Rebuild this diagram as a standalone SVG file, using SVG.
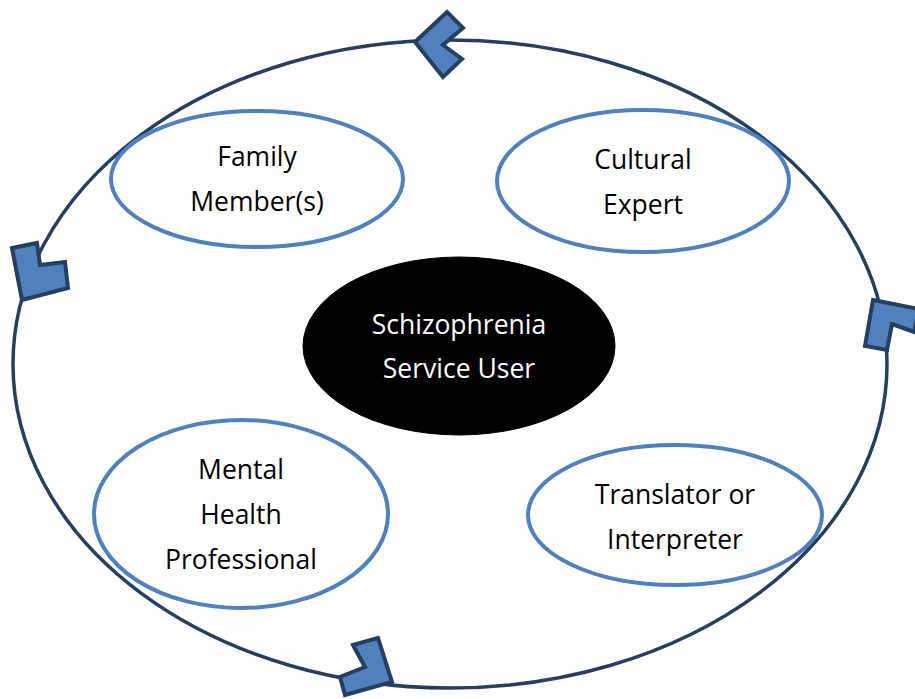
<svg xmlns="http://www.w3.org/2000/svg" width="915" height="699" viewBox="0 0 915 699">
<style>
.ring{fill:none;stroke:#243F60;stroke-width:3.5}
.node{fill:#fff;stroke:#4F81BD;stroke-width:4}
.core{fill:#000;stroke:#000;stroke-width:1}
.chev{fill:#4F81BD;stroke:#243F60;stroke-width:4;stroke-linejoin:miter}
text{font-family:"Open Sans","Liberation Sans",sans-serif;font-size:26.5px;text-anchor:middle;fill:#000}
.w{fill:#fff}
</style>
<rect width="915" height="699" fill="#fff"/>
<g id="connectors">
<ellipse class="ring" cx="450" cy="364" rx="437" ry="324"/>
<polygon class="chev" points="415,42 447,12 463,28 443,45 462,59 443,77"/>
<polygon class="chev" points="12,248 37,243 40,265 65,262 68,288 22,300"/>
<polygon class="chev" points="873,300 919,309 914,332 892,324 887,350 865,346"/>
<polygon class="chev" points="353,645 378,638 392,682 345,695 340,677 365,667"/>
</g>
<g id="family">
<ellipse class="node" cx="257" cy="179" rx="146" ry="68"/>
<text x="257" y="166">Family</text>
<text x="257" y="211">Member(s)</text>
</g>
<g id="cultural">
<ellipse class="node" cx="643" cy="181" rx="146" ry="71"/>
<text x="643" y="169">Cultural</text>
<text x="643" y="214">Expert</text>
</g>
<g id="user">
<ellipse class="core" cx="459" cy="346" rx="156" ry="89"/>
<text class="w" x="459" y="334">Schizophrenia</text>
<text class="w" x="459" y="378">Service User</text>
</g>
<g id="mental">
<ellipse class="node" cx="241" cy="514" rx="147" ry="94"/>
<text x="241" y="479">Mental</text>
<text x="241" y="524">Health</text>
<text x="241" y="569">Professional</text>
</g>
<g id="translator">
<ellipse class="node" cx="675" cy="515" rx="147" ry="70"/>
<text x="675" y="504">Translator or</text>
<text x="675" y="549">Interpreter</text>
</g>
</svg>
